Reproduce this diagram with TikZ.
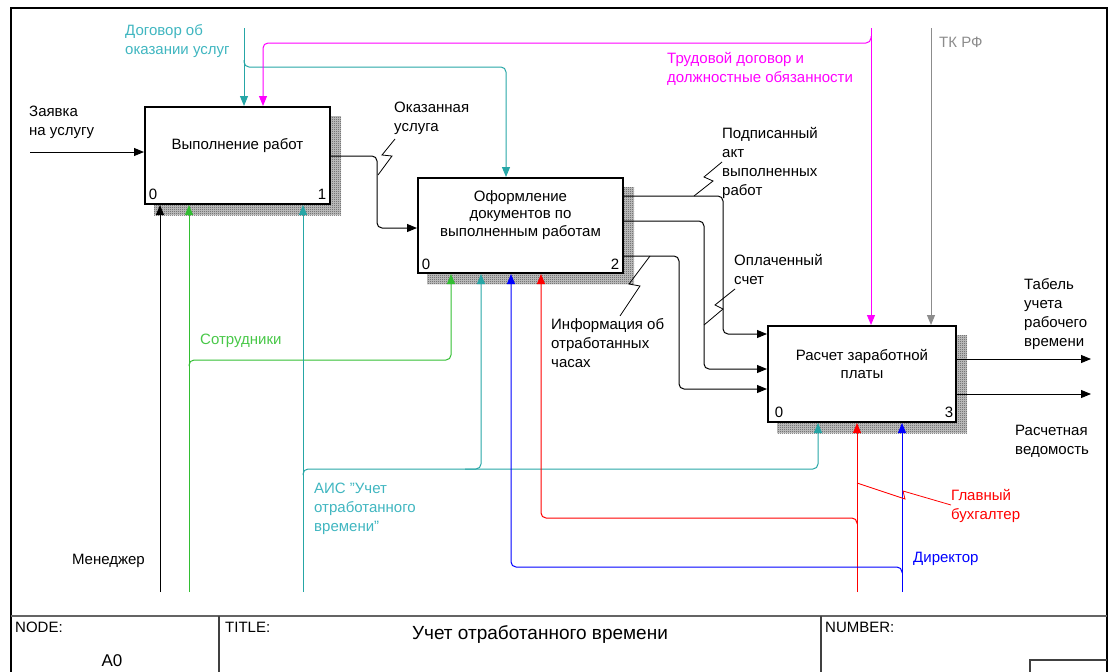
\documentclass[tikz,border=0pt]{standalone}
\usepackage{fontspec}
\setmainfont{Liberation Sans}
\usetikzlibrary{arrows.meta,backgrounds,patterns.meta,calc}

\definecolor{tealL}{RGB}{38,166,166}
\definecolor{tealT}{RGB}{64,182,192}
\definecolor{grnL}{RGB}{50,190,50}
\definecolor{grnT}{RGB}{72,200,72}
\definecolor{magL}{RGB}{255,0,255}
\definecolor{gryL}{RGB}{140,140,140}
\definecolor{redL}{RGB}{255,0,0}
\definecolor{bluL}{RGB}{0,0,255}
\definecolor{frameG}{RGB}{100,100,100}

% fine checkerboard used for the box shadows
\pgfdeclarepattern{
  name=checker,
  type=uncolored,
  bottom left={\pgfpoint{0pt}{0pt}},
  top right={\pgfpoint{2pt}{2pt}},
  tile size={\pgfpoint{2pt}{2pt}},
  code={
    \pgfpathrectangle{\pgfpointorigin}{\pgfpoint{1pt}{1pt}}
    \pgfpathrectangle{\pgfpoint{1pt}{1pt}}{\pgfpoint{1pt}{1pt}}
    \pgfusepath{fill}
  }
}

\begin{document}
\begin{tikzpicture}[x=1pt,y=-1pt,
  lbl/.style={font=\fontsize{15}{19}\selectfont, align=left, inner sep=0pt, anchor=base west},
  boxtxt/.style={font=\fontsize{15}{17.5}\selectfont, align=center, inner sep=0pt},
  num/.style={font=\fontsize{15}{15}\selectfont, inner sep=0pt},
  hdr/.style={font=\fontsize{15}{15}\selectfont, inner sep=0pt, anchor=base west},
  actbox/.style={draw, line width=2pt, fill=white, rectangle},
  arr/.style={line width=1pt, -{Triangle[length=10pt,width=8pt]}},
  sq/.style={line width=0.8pt},
  rc/.style={rounded corners=5pt},
  shadebase/.style={fill=black!22},
  shade/.style={pattern=checker, pattern color=black!70}
]
\useasboundingbox (0,0) rectangle (1114,672);

% ---------- sheet frame and title block ----------
\draw[line width=1.6pt] (11,700) -- (11,8) -- (1107,8) -- (1107,700);
\draw[frameG, line width=1.6pt] (11,616) -- (1107,616);
\draw[line width=1.2pt, black!75] (219,616) -- (219,700);
\draw[line width=1.2pt, black!75] (821,616) -- (821,700);
\draw[line width=1.2pt, black!75] (1030,700) -- (1030,660) -- (1107,660);
\node[hdr] (nodeL) at (15,632) {NODE:};
\node[font=\fontsize{17}{17}\selectfont, inner sep=0pt, anchor=base] (nodeV) at (112,666) {A0};
\node[hdr] (titleL) at (225,632) {TITLE:};
\node[font=\fontsize{19}{19}\selectfont, inner sep=0pt, anchor=base] (titleV) at (540,639) {Учет отработанного времени};
\node[hdr] (numL) at (825,632) {NUMBER:};

% ---------- activity boxes ----------
\node[actbox, minimum width=185pt, minimum height=97pt] (b1) at (237.5,155.5) {};
\node[actbox, minimum width=205pt, minimum height=95pt] (b2) at (520.5,225.5) {};
\node[actbox, minimum width=188pt, minimum height=96pt] (b3) at (862,374) {};

\begin{scope}[on background layer]
  \foreach \b in {b1,b2,b3} {
    \fill[shadebase] ($(\b.north west)+(10,10)$) rectangle ($(\b.south east)+(10,10)$);
    \fill[shade] ($(\b.north west)+(10,10)$) rectangle ($(\b.south east)+(10,10)$);
  }
\end{scope}

\node[boxtxt] (b1t) at (237.5,146) {Выполнение работ};
\node[boxtxt] (b2t) at (520.5,215) {Оформление\\документов по\\выполненным работам};
\node[boxtxt] (b3t) at (862,364) {Расчет заработной\\платы};

\node[num] (b1n0) at (153,194) {0};
\node[num] (b1n1) at (322,194) {1};
\node[num] (b2n0) at (426,264) {0};
\node[num] (b2n2) at (615,264) {2};
\node[num] (b3n0) at (779,412) {0};
\node[num] (b3n3) at (949,412) {3};

% ---------- labels (anchored on the baseline of the last line) ----------
\node[lbl] (lZ) at (29,135) {Заявка\\на услугу};
\node[lbl, text=tealT] (lD) at (125,54) {Договор об\\оказании услуг};
\node[lbl, text=magL] (lT) at (667,82) {Трудовой договор и\\должностные обязанности};
\node[lbl, text=gryL] (lK) at (939,47) {ТК РФ};
\node[lbl] (lO) at (394,131) {Оказанная\\услуга};
\node[lbl] (lP) at (722,195) {Подписанный\\акт\\выполненных\\работ};
\node[lbl] (lS) at (734,284) {Оплаченный\\счет};
\node[lbl] (lI) at (551,367) {Информация об\\отработанных\\часах};
\node[lbl] (lTb) at (1024,346) {Табель\\учета\\рабочего\\времени};
\node[lbl] (lR) at (1015,454) {Расчетная\\ведомость};
\node[lbl, text=grnT] (lC) at (200,344) {Сотрудники};
\node[lbl, text=tealT] (lA) at (314,531) {АИС "Учет\\отработанного\\времени"};
\node[lbl, anchor=base east] (lM) at (145,564) {Менеджер};
\node[lbl, text=redL] (lG) at (951,519) {Главный\\бухгалтер};
\node[lbl, text=bluL] (lDir) at (913,562) {Директор};

% ---------- free ends ----------
\coordinate (inZ) at (30,152);
\coordinate (topD) at (244,28);
\coordinate (topT) at (871,28);
\coordinate (topK) at (931,28);
\coordinate (outTb) at (1091,359);
\coordinate (outR) at (1091,394);
\coordinate (botM) at (160,592);
\coordinate (botC) at (189,592);
\coordinate (botA) at (303,592);
\coordinate (botG) at (857,592);
\coordinate (botDir) at (902,592);

% ---------- inputs ----------
\draw[arr] (inZ) -- (inZ -| b1.west);

% ---------- controls ----------
\draw[arr, tealL] (topD) -- (topD |- b1.north);
\draw[arr, tealL, rc] (244,60) -- (244,67) -- (506,67) -- (506,0 |- b2.north);
\draw[arr, magL] (topT) -- (topT |- b3.north);
\draw[arr, magL, rc] (871,36) -- (871,43) -- (263,43) -- (263,0 |- b1.north);
\draw[arr, gryL] (topK) -- (topK |- b3.north);

% ---------- outputs ----------
\draw[arr, rc] (b1.east |- 0,156) -- (377,156) -- (377,228) -- (b2.west |- 0,228);
\draw[arr, rc] (b2.east |- 0,196) -- (723,196) -- (723,334) -- (b3.west |- 0,334);
\draw[arr, rc] (b2.east |- 0,221) -- (704,221) -- (704,369) -- (b3.west |- 0,369);
\draw[arr, rc] (b2.east |- 0,256) -- (679,256) -- (679,389) -- (b3.west |- 0,389);
\draw[arr] (b3.east |- outTb) -- (outTb);
\draw[arr] (b3.east |- outR) -- (outR);

% ---------- mechanisms ----------
\draw[arr] (botM) -- (botM |- b1.south);
\draw[arr, grnL] (botC) -- (botC |- b1.south);
\draw[arr, grnL, rc] (189,366) -- (189,360) -- (451,360) -- (451,0 |- b2.south);
\draw[arr, tealL] (botA) -- (botA |- b1.south);
\draw[arr, tealL, rc] (303,475) -- (303,469) -- (818,469) -- (818,0 |- b3.south);
\draw[arr, tealL, rc] (465,469) -- (481,469) -- (481,0 |- b2.south);
\draw[arr, redL] (botG) -- (botG |- b3.south);
\draw[arr, redL, rc] (857,524) -- (857,518) -- (541,518) -- (541,0 |- b2.south);
\draw[arr, bluL] (botDir) -- (botDir |- b3.south);
\draw[arr, bluL, rc] (902,573) -- (902,567) -- (511,567) -- (511,0 |- b2.south);

% ---------- label leaders (squiggles) ----------
\coordinate (qO) at (378,175);
\coordinate (qP) at (694,196);
\coordinate (qS) at (704,325);
\coordinate (qI) at (650,256);
\coordinate (qG) at (857,483);
\draw[sq] (395,139) -- (382,155) -- (392,156) -- (qO);
\draw[sq] (722,162) -- (704,177) -- (713,181) -- (qP);
\draw[sq] (735,289) -- (715,305) -- (723,309) -- (qS);
\draw[sq] (qI) -- (629,284) -- (640,286) -- (620,316);
\draw[sq, redL] (qG) -- (905,499) -- (903,491) -- (951,505);

\end{tikzpicture}
\end{document}
